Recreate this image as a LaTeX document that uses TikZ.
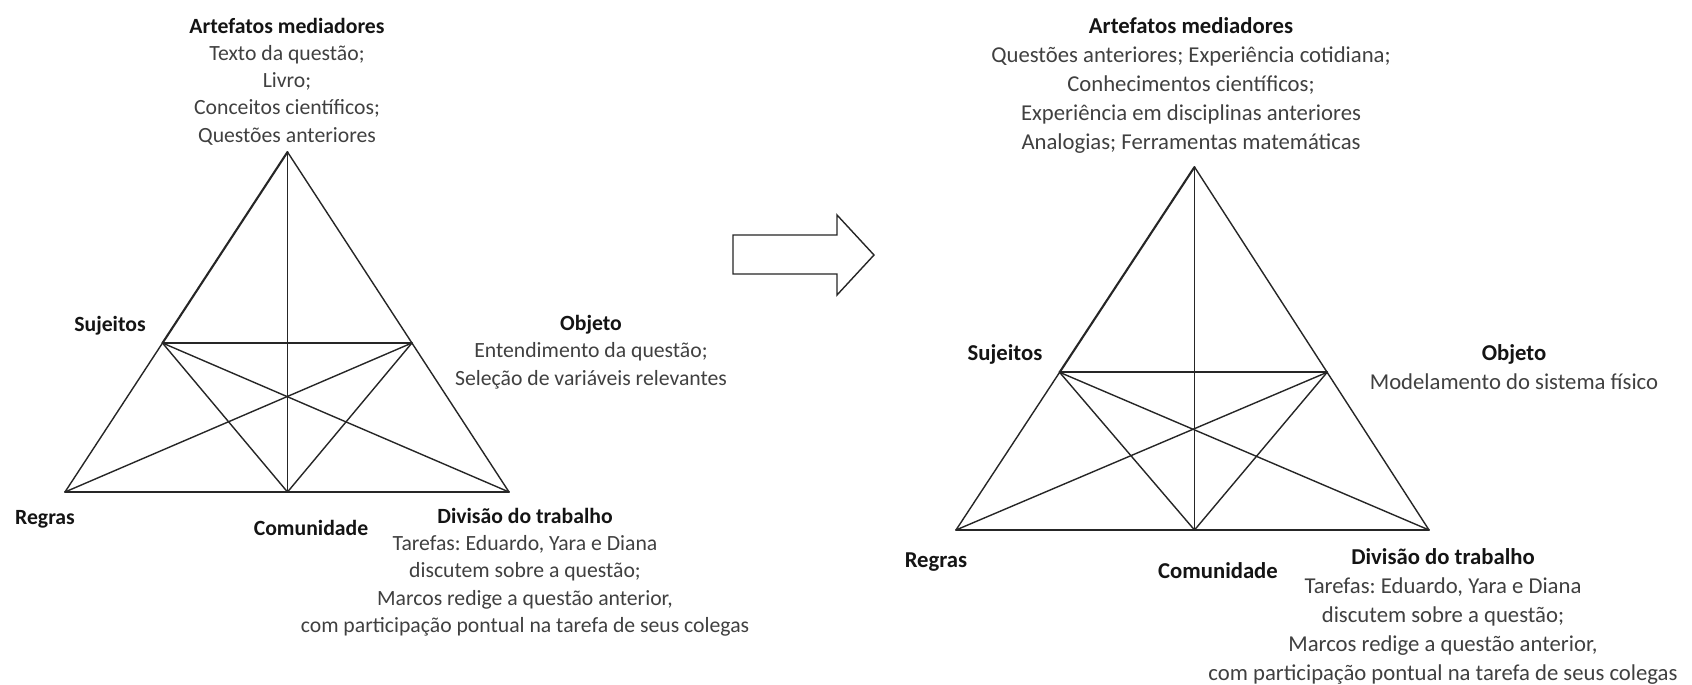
\documentclass[tikz,border=0pt]{standalone}
\usepackage{fontspec}
\setmainfont{Carlito}
\frenchspacing
\begin{document}
\begin{tikzpicture}[x=1pt,y=-1pt,
  edge/.style={draw=black!85, line width=1.4pt, line cap=round},
  edgem/.style={draw=black!85, line width=1.8pt, line cap=round},
  edgeb/.style={draw=black!85, line width=2.1pt, line cap=round},
  lblL/.style={font=\fontsize{21.7}{27.3}\selectfont, text=black!75, inner sep=0pt, anchor=base, align=center},
  lblR/.style={font=\fontsize{22.7}{29}\selectfont, text=black!75, inner sep=0pt, anchor=base, align=center},
  hdL/.style={font=\fontsize{21.7}{27.3}\selectfont\bfseries, text=black!92, inner sep=0pt, anchor=base},
  hdR/.style={font=\fontsize{22.7}{29}\selectfont\bfseries, text=black!92, inner sep=0pt, anchor=base}]
\useasboundingbox (0,0) rectangle (1692,685);
\fill[white] (0,0) rectangle (1692,685);

% ---------- left diagram ----------
\coordinate (LA) at (287.5,152);
\coordinate (LR) at (65,492);
\coordinate (LC) at (287.5,492);
\coordinate (LD) at (509,492);
\coordinate (LS) at (162.5,343);
\coordinate (LO) at (411.9,343);

\draw[edge] (LS) -- (LR);
\draw[edge] (LA) -- (LD);
\draw[edgem] (LR) -- (LD);
\draw[edgeb] (LS) -- (LA);
\draw[edgem] (LS) -- (LO);
\draw[edge] (LA) -- (LC);
\draw[edge] (LS) -- (LC);
\draw[edge] (LO) -- (LC);
\draw[edge] (LS) -- (LD);
\draw[edge] (LO) -- (LR);

% base anchor of a multi-line node = baseline of its last line
\node[lblL] (artL) at (287,142.2) {{\color{black!92}\bfseries Artefatos mediadores}\\Texto da questão;\\Livro;\\Conceitos científicos;\\Questões anteriores};
\node[hdL] (sujL) at (110,331) {Sujeitos};
\node[lblL] (objL) at (591,385) {{\color{black!92}\bfseries Objeto}\\Entendimento da questão;\\Seleção de variáveis relevantes};
\node[hdL] (regL) at (45,524) {Regras};
\node[hdL] (comL) at (311,535) {Comunidade};
\node[lblL] (divL) at (525,632.5) {{\color{black!92}\bfseries Divisão do trabalho}\\Tarefas: Eduardo, Yara e Diana\\discutem sobre a questão;\\Marcos redige a questão anterior,\\com participação pontual na tarefa de seus colegas};

% ---------- block arrow ----------
\coordinate (B1) at (733,235);
\coordinate (B2) at (837,235);
\coordinate (B3) at (837,215);
\coordinate (B4) at (874,255);
\coordinate (B5) at (837,295);
\coordinate (B6) at (837,274);
\coordinate (B7) at (733,274);
\draw[draw=black!85, line width=1.4pt, line join=miter] (B1) -- (B2) -- (B3) -- (B4) -- (B5) -- (B6) -- (B7) -- cycle;

% ---------- right diagram ----------
\coordinate (RA) at (1194.5,167);
\coordinate (RR) at (956,530);
\coordinate (RC) at (1194.5,530);
\coordinate (RD) at (1429,530);
\coordinate (RS) at (1059.6,372.3);
\coordinate (RO) at (1327.1,372.3);

\draw[edge] (RS) -- (RR);
\draw[edge] (RA) -- (RD);
\draw[edgem] (RR) -- (RD);
\draw[edgeb] (RS) -- (RA);
\draw[edgem] (RS) -- (RO);
\draw[edge] (RA) -- (RC);
\draw[edge] (RS) -- (RC);
\draw[edge] (RO) -- (RC);
\draw[edge] (RS) -- (RD);
\draw[edge] (RO) -- (RR);

\node[lblR] (artR) at (1191,149) {{\color{black!92}\bfseries Artefatos mediadores}\\Questões anteriores; Experiência cotidiana;\\Conhecimentos científicos;\\Experiência em disciplinas anteriores\\Analogias; Ferramentas matemáticas};
\node[hdR] (sujR) at (1005,360) {Sujeitos};
\node[lblR] (objR) at (1514,389) {{\color{black!92}\bfseries Objeto}\\Modelamento do sistema físico};
\node[hdR] (regR) at (936,567) {Regras};
\node[hdR] (comR) at (1218,578) {Comunidade};
\node[lblR] (divR) at (1443,680.5) {{\color{black!92}\bfseries Divisão do trabalho}\\Tarefas: Eduardo, Yara e Diana\\discutem sobre a questão;\\Marcos redige a questão anterior,\\com participação pontual na tarefa de seus colegas};
\end{tikzpicture}
\end{document}
